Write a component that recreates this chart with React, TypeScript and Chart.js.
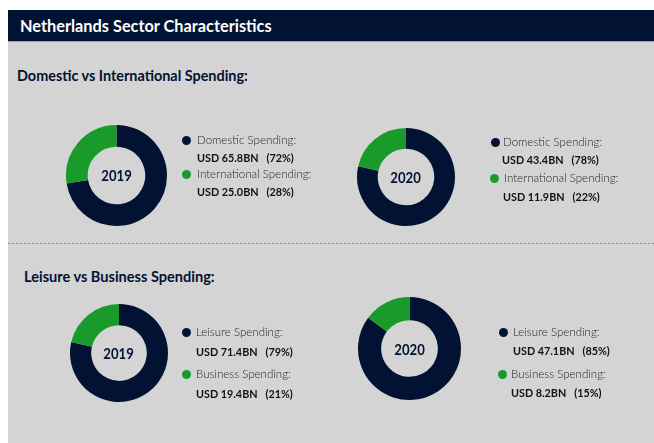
import React, { useEffect, useRef } from "react";
import { Chart, registerables } from "chart.js";

Chart.register(...registerables);

// ---- data ----
const pageTitle = "Netherlands Sector Characteristics";
const section1Title = "Domestic vs International Spending:";
const section2Title = "Leisure vs Business Spending:";
const years = ["2019", "2020"];

const domesticLabels = ["Domestic Spending:", "International Spending:"];
const domestic2019 = [65.8, 25.0];
const domestic2020 = [43.4, 11.9];
const domesticPct2019 = [72, 28];
const domesticPct2020 = [78, 22];

const leisureLabels = ["Leisure Spending:", "Business Spending:"];
const leisure2019 = [71.4, 19.4];
const leisure2020 = [47.1, 8.2];
const leisurePct2019 = [79, 21];
const leisurePct2020 = [85, 15];

// ---- styles ----
const NAVY = "#021232";
const GREEN = "#1a9a2a";
const BG = "#d4d4d4";
const FONT = "Lato, 'Noto Sans', sans-serif";

function Donut(props: { cx: number; cy: number; outer: number; inner: number; values: number[]; year: string }) {
  const ref = useRef<HTMLCanvasElement | null>(null);
  const size = Math.ceil(props.outer * 2 + 6);
  useEffect(() => {
    if (!ref.current) return;
    const chart = new Chart(ref.current, {
      type: "doughnut",
      data: {
        labels: ["a", "b"],
        datasets: [
          {
            data: props.values,
            backgroundColor: [NAVY, GREEN],
            borderWidth: 0,
          },
        ],
      },
      options: {
        responsive: false,
        maintainAspectRatio: false,
        animation: false,
        radius: props.outer,
        cutout: props.inner,
        layout: { padding: 0 },
        plugins: { legend: { display: false }, tooltip: { enabled: false } },
      } as any,
    });
    return () => chart.destroy();
  }, []);
  return (
    <>
      <canvas
        ref={ref}
        width={size}
        height={size}
        style={{ position: "absolute", left: props.cx - size / 2, top: props.cy - size / 2, width: size, height: size }}
      />
      <div
        style={{
          position: "absolute",
          left: props.cx - 40,
          top: props.cy - 10,
          width: 80,
          height: 20,
          lineHeight: "20px",
          textAlign: "center",
          fontFamily: FONT,
          fontWeight: 700,
          fontSize: 16,
          color: NAVY,
        }}
      >
        <span style={{ display: "inline-block", transform: "scaleX(0.82)" }}>{props.year}</span>
      </div>
    </>
  );
}

function Text(props: { x: number; cy: number; size: number; weight: number; color: string; sx: number; children: any }) {
  return (
    <div
      style={{
        position: "absolute",
        left: props.x,
        top: props.cy - 10,
        height: 20,
        lineHeight: "20px",
        whiteSpace: "pre",
        fontFamily: FONT,
        fontSize: props.size,
        fontWeight: props.weight,
        color: props.color,
        transform: `scaleX(${props.sx})`,
        transformOrigin: "left center",
      }}
    >
      {props.children}
    </div>
  );
}

function Dot(props: { cx: number; cy: number; color: string }) {
  return (
    <div
      style={{
        position: "absolute",
        left: props.cx - 4.5,
        top: props.cy - 4.5,
        width: 9,
        height: 9,
        borderRadius: "50%",
        background: props.color,
      }}
    />
  );
}

function Legend(props: {
  labels: string[];
  values: number[];
  pcts: number[];
  dots: number[][];
  textX: number[];
  valX: number[];
  labelY: number[];
  valY: number[];
}) {
  const colors = [NAVY, GREEN];
  return (
    <>
      {props.labels.map((l, i) => (
        <React.Fragment key={i}>
          <Dot cx={props.dots[i][0]} cy={props.dots[i][1]} color={colors[i]} />
          <Text x={props.textX[i]} cy={props.labelY[i]} size={12} weight={300} color="#262626" sx={0.96}>
            {l}
          </Text>
          <Text x={props.valX[i]} cy={props.valY[i]} size={12} weight={700} color="#111" sx={0.9}>
            {`USD ${props.values[i].toFixed(1)}BN   (${props.pcts[i]}%)`}
          </Text>
        </React.Fragment>
      ))}
    </>
  );
}

export default function App() {
  return (
    <div style={{ position: "fixed", left: 0, top: 0, width: 654, height: 443, background: "#fff", overflow: "hidden" }}>
      <div style={{ position: "absolute", left: 8, top: 42, width: 646, height: 401, background: BG }} />
      <div
        style={{
          position: "absolute",
          left: 8,
          top: 10,
          width: 646,
          height: 31,
          background: NAVY,
          borderBottom: "1px solid #9c9ea6",
        }}
      />
      <Text x={20} cy={26} size={17} weight={700} color="#ffffff" sx={0.96}>
        {pageTitle}
      </Text>
      <Text x={17} cy={75} size={15} weight={700} color={NAVY} sx={0.96}>
        {section1Title}
      </Text>
      <div
        style={{
          position: "absolute",
          left: 8,
          top: 243,
          width: 646,
          height: 1,
          background: "repeating-linear-gradient(to right, #8a8a8a 0 2px, transparent 2px 4px)",
        }}
      />
      <Text x={24} cy={276} size={15} weight={700} color={NAVY} sx={0.97}>
        {section2Title}
      </Text>

      <Donut cx={116.5} cy={175} outer={50.5} inner={30.5} values={domestic2019} year={years[0]} />
      <Donut cx={405.5} cy={177} outer={49} inner={30} values={domestic2020} year={years[1]} />
      <Donut cx={118.5} cy={353} outer={49} inner={29.5} values={leisure2019} year={years[0]} />
      <Donut cx={409.5} cy={348.5} outer={51.5} inner={30} values={leisure2020} year={years[1]} />

      <Legend
        labels={domesticLabels}
        values={domestic2019}
        pcts={domesticPct2019}
        dots={[[186, 140], [186, 174]]}
        textX={[197, 197]}
        valX={[197, 197]}
        labelY={[140, 174]}
        valY={[158, 192]}
      />
      <Legend
        labels={domesticLabels}
        values={domestic2020}
        pcts={domesticPct2020}
        dots={[[495, 142], [494, 178]]}
        textX={[503, 504]}
        valX={[502, 503]}
        labelY={[142, 178]}
        valY={[160, 197]}
      />
      <Legend
        labels={leisureLabels}
        values={leisure2019}
        pcts={leisurePct2019}
        dots={[[186, 332], [186, 374]]}
        textX={[196, 196]}
        valX={[196, 196]}
        labelY={[332, 374]}
        valY={[352, 394]}
      />
      <Legend
        labels={leisureLabels}
        values={leisure2020}
        pcts={leisurePct2020}
        dots={[[503, 332], [502, 374]]}
        textX={[513, 511]}
        valX={[513, 511]}
        labelY={[332, 374]}
        valY={[351, 393]}
      />
    </div>
  );
}
